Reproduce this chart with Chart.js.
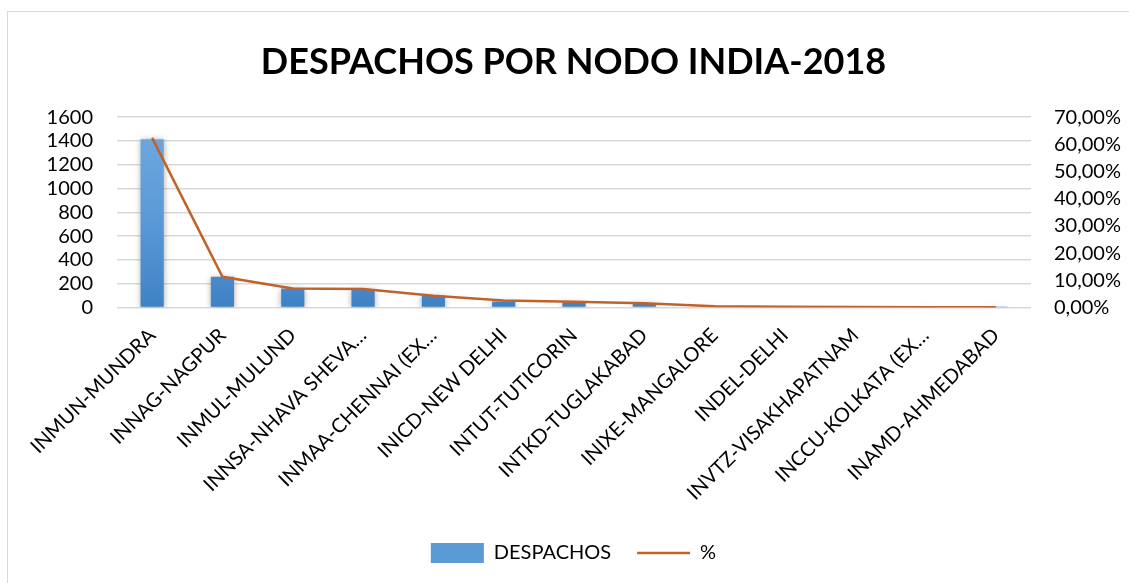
<!DOCTYPE html>
<html>
<head>
<meta charset="utf-8">
<script src="https://cdn.jsdelivr.net/npm/chart.js@4.4.0/dist/chart.umd.min.js"></script>
<style>
  html, body { margin: 0; padding: 0; background: #ffffff; overflow: hidden; width: 1129px; height: 583px; }
  #frame { position: absolute; left: 7px; top: 11px; width: 1122px; height: 572px; border-left: 1.5px solid #d9d9d9; border-top: 1.5px solid #d9d9d9; box-sizing: border-box; }
  #wrap { position: absolute; left: 0; top: 0; width: 1129px; height: 583px; }
</style>
</head>
<body>
<div id="frame"></div>
<div id="wrap"><canvas id="c" width="1129" height="583"></canvas></div>
<script>
const categories = ["INMUN-MUNDRA","INNAG-NAGPUR","INMUL-MULUND","INNSA-NHAVA SHEVA…","INMAA-CHENNAI (EX…","INICD-NEW DELHI","INTUT-TUTICORIN","INTKD-TUGLAKABAD","INIXE-MANGALORE","INDEL-DELHI","INVTZ-VISAKHAPATNAM","INCCU-KOLKATA (EX…","INAMD-AHMEDABAD"];
const despachos = [1414, 259, 160, 155, 99, 51, 42, 37, 10, 8, 5, 3, 2];
const percent = [62.4, 11.3, 7.0, 6.8, 4.3, 2.6, 2.1, 1.6, 0.5, 0.3, 0.2, 0.1, 0.1];
const leftMax = 1600, leftStep = 200;
const rightMax = 70, rightStep = 10;

const FONT = "Lato, 'Open Sans', sans-serif";

function barGradient(ctx) {
  const chart = ctx.chart;
  const area = chart.chartArea;
  if (!area) return '#5b9bd5';
  const g = chart.ctx.createLinearGradient(0, area.top, 0, area.bottom);
  g.addColorStop(0, '#71a9de');
  g.addColorStop(0.5, '#5c9bd8');
  g.addColorStop(1, '#3f82c4');
  return g;
}

const shadowPlugin = {
  id: 'barShadow',
  beforeDatasetDraw(chart, args) {
    if (args.index === 1) {
      const c = chart.ctx;
      c.save();
      c.shadowColor = 'rgba(0,0,0,0.35)';
      c.shadowBlur = 6;
      c.shadowOffsetX = 0;
      c.shadowOffsetY = 1;
    }
  },
  afterDatasetDraw(chart, args) {
    if (args.index === 1) chart.ctx.restore();
  }
};

new Chart(document.getElementById('c'), {
  data: {
    labels: categories,
    datasets: [
      {
        type: 'line',
        label: '%',
        data: percent,
        yAxisID: 'y2',
        borderColor: '#c0622a',
        backgroundColor: '#c0622a',
        borderWidth: 2.5,
        pointRadius: 0,
        pointHoverRadius: 0,
        pointStyle: 'line',
        tension: 0,
        order: 0
      },
      {
        type: 'bar',
        label: 'DESPACHOS',
        data: despachos,
        yAxisID: 'y',
        backgroundColor: barGradient,
        borderWidth: 0,
        barPercentage: 0.33,
        categoryPercentage: 1.0,
        pointStyle: 'rect',
        order: 1
      }
    ]
  },
  plugins: [shadowPlugin],
  options: {
    responsive: false,
    animation: false,
    events: [],
    layout: { padding: { left: 22, right: 4, top: 0, bottom: 10 } },
    plugins: {
      title: {
        display: true,
        text: 'DESPACHOS POR NODO INDIA-2018',
        color: '#000000',
        font: { family: FONT, size: 36, weight: 'bold' },
        padding: { top: 41, bottom: 33 }
      },
      legend: {
        display: true,
        position: 'bottom',
        reverse: true,
        labels: {
          color: '#000000',
          font: { family: FONT, size: 20 },
          usePointStyle: true,
          pointStyleWidth: 53,
          boxHeight: 20,
          padding: 26,
          generateLabels(chart) {
            const items = Chart.defaults.plugins.legend.labels.generateLabels(chart);
            items.forEach(it => {
              if (it.datasetIndex === 1) { it.fillStyle = '#5b9bd5'; it.strokeStyle = '#5b9bd5'; it.lineWidth = 0; }
            });
            return items;
          }
        }
      },
      tooltip: { enabled: false }
    },
    scales: {
      x: {
        offset: true,
        grid: { display: false, drawTicks: false },
        border: { display: false },
        afterFit(axis) { axis.paddingLeft = 0; axis.paddingRight = 0; axis.height -= 4; },
        ticks: {
          color: '#000000',
          font: { family: FONT, size: 20 },
          maxRotation: 45,
          minRotation: 45,
          autoSkip: false,
          padding: 16
        }
      },
      y: {
        position: 'left',
        min: 0,
        max: leftMax,
        grid: { color: '#d9d9d9', lineWidth: 1.5, drawTicks: false },
        border: { display: false },
        afterFit(axis) { axis.width = 95; },
        ticks: {
          stepSize: leftStep,
          autoSkip: false,
          color: '#000000',
          font: { family: FONT, size: 20 },
          padding: 24,
          callback: v => String(v)
        }
      },
      y2: {
        position: 'right',
        min: 0,
        max: rightMax,
        grid: { display: false, drawTicks: false },
        border: { display: false },
        afterFit(axis) { axis.width = 94; },
        ticks: {
          stepSize: rightStep,
          autoSkip: false,
          color: '#000000',
          font: { family: FONT, size: 20 },
          padding: 23,
          callback: v => v.toFixed(2).replace('.', ',') + '%'
        }
      }
    }
  }
});
</script>
</body>
</html>
